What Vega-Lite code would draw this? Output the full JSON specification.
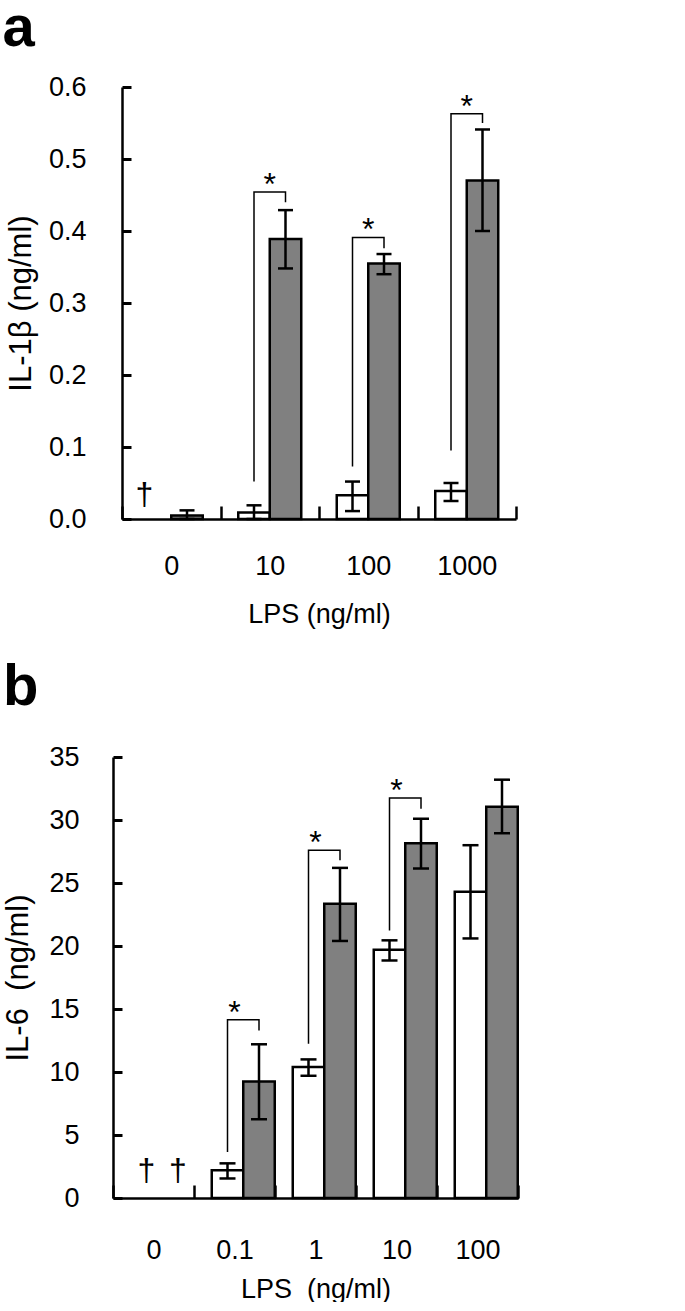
{
  "$schema": "https://vega.github.io/schema/vega-lite/v6.json",
  "background": "white",
  "padding": {"left": 2, "top": 0, "right": 0, "bottom": 0},
  "datasets": {
    "barsA": [
      {"lps": "0", "group": "filled", "value": 0.005, "lo": 0.0, "hi": 0.012},
      {"lps": "10", "group": "open", "value": 0.009, "lo": 0.0, "hi": 0.019},
      {"lps": "10", "group": "filled", "value": 0.389, "lo": 0.348, "hi": 0.429},
      {"lps": "100", "group": "open", "value": 0.033, "lo": 0.011, "hi": 0.052},
      {"lps": "100", "group": "filled", "value": 0.355, "lo": 0.340, "hi": 0.368},
      {"lps": "1000", "group": "open", "value": 0.039, "lo": 0.025, "hi": 0.050},
      {"lps": "1000", "group": "filled", "value": 0.470, "lo": 0.400, "hi": 0.541}
    ],
    "bracketsA": [
      {"lps": "10", "group": "open", "y": 0.052, "pt": 1},
      {"lps": "10", "group": "open", "y": 0.454, "pt": 2},
      {"lps": "10", "group": "filled", "y": 0.454, "pt": 3},
      {"lps": "10", "group": "filled", "y": 0.440, "pt": 4},
      {"lps": "100", "group": "open", "y": 0.073, "pt": 1},
      {"lps": "100", "group": "open", "y": 0.391, "pt": 2},
      {"lps": "100", "group": "filled", "y": 0.391, "pt": 3},
      {"lps": "100", "group": "filled", "y": 0.376, "pt": 4},
      {"lps": "1000", "group": "open", "y": 0.095, "pt": 1},
      {"lps": "1000", "group": "open", "y": 0.563, "pt": 2},
      {"lps": "1000", "group": "filled", "y": 0.563, "pt": 3},
      {"lps": "1000", "group": "filled", "y": 0.550, "pt": 4}
    ],
    "starsA": [
      {"lps": "10", "y": 0.454, "label": "*"},
      {"lps": "100", "y": 0.391, "label": "*"},
      {"lps": "1000", "y": 0.563, "label": "*"}
    ],
    "daggersA": [
      {"lps": "0", "group": "open", "y": 0, "label": "†"}
    ],
    "barsB": [
      {"lps": "0.1", "group": "open", "value": 2.2, "lo": 1.55, "hi": 2.75},
      {"lps": "0.1", "group": "filled", "value": 9.25, "lo": 6.25, "hi": 12.2},
      {"lps": "1", "group": "open", "value": 10.4, "lo": 9.7, "hi": 11.0},
      {"lps": "1", "group": "filled", "value": 23.35, "lo": 20.4, "hi": 26.2},
      {"lps": "10", "group": "open", "value": 19.7, "lo": 18.85, "hi": 20.45},
      {"lps": "10", "group": "filled", "value": 28.15, "lo": 26.15, "hi": 30.1},
      {"lps": "100", "group": "open", "value": 24.3, "lo": 20.6, "hi": 28.0},
      {"lps": "100", "group": "filled", "value": 31.05, "lo": 28.95, "hi": 33.2}
    ],
    "bracketsB": [
      {"lps": "0.1", "group": "open", "y": 3.65, "pt": 1},
      {"lps": "0.1", "group": "open", "y": 14.15, "pt": 2},
      {"lps": "0.1", "group": "filled", "y": 14.15, "pt": 3},
      {"lps": "0.1", "group": "filled", "y": 13.3, "pt": 4},
      {"lps": "1", "group": "open", "y": 12.25, "pt": 1},
      {"lps": "1", "group": "open", "y": 27.6, "pt": 2},
      {"lps": "1", "group": "filled", "y": 27.6, "pt": 3},
      {"lps": "1", "group": "filled", "y": 26.8, "pt": 4},
      {"lps": "10", "group": "open", "y": 21.24, "pt": 1},
      {"lps": "10", "group": "open", "y": 31.75, "pt": 2},
      {"lps": "10", "group": "filled", "y": 31.75, "pt": 3},
      {"lps": "10", "group": "filled", "y": 30.9, "pt": 4}
    ],
    "starsB": [
      {"lps": "0.1", "y": 14.15, "label": "*"},
      {"lps": "1", "y": 27.6, "label": "*"},
      {"lps": "10", "y": 31.75, "label": "*"}
    ],
    "daggersB": [
      {"lps": "0", "group": "open", "y": 0, "label": "†"},
      {"lps": "0", "group": "filled", "y": 0, "label": "†"}
    ]
  },
  "concat": [
    {
      "width": 403,
      "height": 432,
      "title": {"text": "a", "anchor": "start", "frame": "bounds", "fontSize": 58, "font": "Liberation Sans", "fontWeight": "bold", "offset": 15, "dx": -3, "color": "black"},
      "encoding": {
        "x": {
          "field": "lps", "type": "nominal",
          "scale": {"domain": ["0", "10", "100", "1000"], "range": [9, 403], "paddingInner": 0, "paddingOuter": 0},
          "axis": {"title": "LPS (ng/ml)", "labelAngle": 0, "tickBand": "extent", "tickSize": -13, "tickWidth": 2.5, "domainWidth": 2.5, "labelPadding": 47, "titlePadding": 22, "labelFontSize": 27, "titleFontSize": 27}
        }
      },
      "layer": [
        {
          "data": {"name": "barsA"},
          "mark": {"type": "bar", "stroke": "black", "strokeWidth": 2.5},
          "encoding": {
            "xOffset": {"field": "group", "type": "nominal", "scale": {"domain": ["open", "filled"], "paddingInner": 0, "paddingOuter": 0.5635}},
            "y": {"field": "value", "type": "quantitative", "title": "IL-1β (ng/ml)", "scale": {"domain": [0, 0.6], "nice": false},
              "axis": {"title": "IL-1β (ng/ml)", "offset": -9, "tickCount": 6, "format": ".1f", "ticks": true, "tickColor": "black", "tickSize": -9, "tickWidth": 3, "domainWidth": 2.5, "labelPadding": 45, "labelFlush": false, "labelFontSize": 27, "titleFontSize": 31, "titlePadding": 11}},
            "color": {"field": "group", "type": "nominal", "scale": {"domain": ["open", "filled"], "range": ["#ffffff", "#808080"]}, "legend": null}
          }
        },
        {
          "data": {"name": "barsA"},
          "mark": {"type": "rule", "strokeWidth": 2.5, "color": "black"},
          "encoding": {
            "xOffset": {"field": "group", "type": "nominal", "scale": {"domain": ["open", "filled"], "paddingInner": 0, "paddingOuter": 0.5635}},
            "y": {"field": "lo", "type": "quantitative", "title": "IL-1β (ng/ml)", "scale": {"domain": [0, 0.6], "nice": false}},
            "y2": {"field": "hi"}
          }
        },
        {
          "data": {"name": "barsA"},
          "mark": {"type": "tick", "thickness": 2.5, "size": 15, "color": "black", "opacity": 1},
          "encoding": {
            "xOffset": {"field": "group", "type": "nominal", "scale": {"domain": ["open", "filled"], "paddingInner": 0, "paddingOuter": 0.5635}},
            "y": {"field": "lo", "type": "quantitative", "title": "IL-1β (ng/ml)", "scale": {"domain": [0, 0.6], "nice": false}}
          }
        },
        {
          "data": {"name": "barsA"},
          "mark": {"type": "tick", "thickness": 2.5, "size": 15, "color": "black", "opacity": 1},
          "encoding": {
            "xOffset": {"field": "group", "type": "nominal", "scale": {"domain": ["open", "filled"], "paddingInner": 0, "paddingOuter": 0.5635}},
            "y": {"field": "hi", "type": "quantitative", "title": "IL-1β (ng/ml)", "scale": {"domain": [0, 0.6], "nice": false}}
          }
        },
        {
          "data": {"name": "bracketsA"},
          "mark": {"type": "line", "strokeWidth": 1.5, "color": "black"},
          "encoding": {
            "xOffset": {"field": "group", "type": "nominal", "scale": {"domain": ["open", "filled"], "paddingInner": 0, "paddingOuter": 0.5635}},
            "y": {"field": "y", "type": "quantitative", "title": "IL-1β (ng/ml)", "scale": {"domain": [0, 0.6], "nice": false}},
            "detail": {"field": "lps", "type": "nominal"},
            "order": {"field": "pt", "type": "quantitative"}
          }
        },
        {
          "data": {"name": "starsA"},
          "mark": {"type": "text", "fontSize": 32, "baseline": "alphabetic", "dy": 3, "color": "black"},
          "encoding": {
            "y": {"field": "y", "type": "quantitative", "title": "IL-1β (ng/ml)", "scale": {"domain": [0, 0.6], "nice": false}},
            "text": {"field": "label"}
          }
        },
        {
          "data": {"name": "daggersA"},
          "mark": {"type": "text", "fontSize": 32, "baseline": "alphabetic", "dy": -14, "dx": -11, "color": "black"},
          "encoding": {
            "xOffset": {"field": "group", "type": "nominal", "scale": {"domain": ["open", "filled"], "paddingInner": 0, "paddingOuter": 0.5635}},
            "y": {"field": "y", "type": "quantitative", "title": "IL-1β (ng/ml)", "scale": {"domain": [0, 0.6], "nice": false}},
            "text": {"field": "label"}
          }
        }
      ]
    },
    {
      "width": 405,
      "height": 441,
      "title": {"text": "b", "anchor": "start", "frame": "bounds", "fontSize": 58, "font": "Liberation Sans", "fontWeight": "bold", "offset": 26, "color": "black"},
      "encoding": {
        "x": {
          "field": "lps", "type": "nominal",
          "scale": {"domain": ["0", "0.1", "1", "10", "100"], "paddingInner": 0, "paddingOuter": 0},
          "axis": {"title": "LPS\u00a0\u00a0(ng/ml)", "labelAngle": 0, "tickBand": "extent", "tickSize": -13, "tickWidth": 2.5, "domainWidth": 2.5, "labelPadding": 52, "titlePadding": 13, "labelFontSize": 27, "titleFontSize": 27}
        }
      },
      "layer": [
        {
          "data": {"name": "barsB"},
          "mark": {"type": "bar", "stroke": "black", "strokeWidth": 2.5},
          "encoding": {
            "xOffset": {"field": "group", "type": "nominal", "scale": {"domain": ["open", "filled"], "paddingInner": 0, "paddingOuter": 0.71}},
            "y": {"field": "value", "type": "quantitative", "title": "IL-6\u00a0\u00a0(ng/ml)", "scale": {"domain": [0, 35], "nice": false},
              "axis": {"title": "IL-6\u00a0\u00a0(ng/ml)", "values": [0, 5, 10, 15, 20, 25, 30, 35], "format": "d", "ticks": true, "tickColor": "black", "tickSize": -9, "tickWidth": 3, "domainWidth": 2.5, "labelPadding": 43, "labelFlush": false, "labelFontSize": 27, "titleFontSize": 31, "titlePadding": 14}},
            "color": {"field": "group", "type": "nominal", "scale": {"domain": ["open", "filled"], "range": ["#ffffff", "#808080"]}, "legend": null}
          }
        },
        {
          "data": {"name": "barsB"},
          "mark": {"type": "rule", "strokeWidth": 2.5, "color": "black"},
          "encoding": {
            "xOffset": {"field": "group", "type": "nominal", "scale": {"domain": ["open", "filled"], "paddingInner": 0, "paddingOuter": 0.71}},
            "y": {"field": "lo", "type": "quantitative", "title": "IL-6\u00a0\u00a0(ng/ml)", "scale": {"domain": [0, 35], "nice": false}},
            "y2": {"field": "hi"}
          }
        },
        {
          "data": {"name": "barsB"},
          "mark": {"type": "tick", "thickness": 2.5, "size": 16, "color": "black", "opacity": 1},
          "encoding": {
            "xOffset": {"field": "group", "type": "nominal", "scale": {"domain": ["open", "filled"], "paddingInner": 0, "paddingOuter": 0.71}},
            "y": {"field": "lo", "type": "quantitative", "title": "IL-6\u00a0\u00a0(ng/ml)", "scale": {"domain": [0, 35], "nice": false}}
          }
        },
        {
          "data": {"name": "barsB"},
          "mark": {"type": "tick", "thickness": 2.5, "size": 16, "color": "black", "opacity": 1},
          "encoding": {
            "xOffset": {"field": "group", "type": "nominal", "scale": {"domain": ["open", "filled"], "paddingInner": 0, "paddingOuter": 0.71}},
            "y": {"field": "hi", "type": "quantitative", "title": "IL-6\u00a0\u00a0(ng/ml)", "scale": {"domain": [0, 35], "nice": false}}
          }
        },
        {
          "data": {"name": "bracketsB"},
          "mark": {"type": "line", "strokeWidth": 1.5, "color": "black"},
          "encoding": {
            "xOffset": {"field": "group", "type": "nominal", "scale": {"domain": ["open", "filled"], "paddingInner": 0, "paddingOuter": 0.71}},
            "y": {"field": "y", "type": "quantitative", "title": "IL-6\u00a0\u00a0(ng/ml)", "scale": {"domain": [0, 35], "nice": false}},
            "detail": {"field": "lps", "type": "nominal"},
            "order": {"field": "pt", "type": "quantitative"}
          }
        },
        {
          "data": {"name": "starsB"},
          "mark": {"type": "text", "fontSize": 32, "baseline": "alphabetic", "dy": 3, "color": "black"},
          "encoding": {
            "y": {"field": "y", "type": "quantitative", "title": "IL-6\u00a0\u00a0(ng/ml)", "scale": {"domain": [0, 35], "nice": false}},
            "text": {"field": "label"}
          }
        },
        {
          "data": {"name": "daggersB"},
          "mark": {"type": "text", "fontSize": 32, "baseline": "alphabetic", "dy": -17, "color": "black"},
          "encoding": {
            "xOffset": {"field": "group", "type": "nominal", "scale": {"domain": ["open", "filled"], "paddingInner": 0, "paddingOuter": 0.71}},
            "y": {"field": "y", "type": "quantitative", "title": "IL-6\u00a0\u00a0(ng/ml)", "scale": {"domain": [0, 35], "nice": false}},
            "text": {"field": "label"}
          }
        }
      ]
    }
  ],
  "columns": 1,
  "align": "none",
  "spacing": 32,
  "config": {
    "font": "Liberation Sans",
    "view": {"stroke": null},
    "axis": {"grid": false, "ticks": true, "domainColor": "black", "tickColor": "black", "labelColor": "black", "titleColor": "black", "titleFontWeight": "normal", "labelFont": "Liberation Sans", "titleFont": "Liberation Sans"},
    "title": {"color": "black"}
  }
}
